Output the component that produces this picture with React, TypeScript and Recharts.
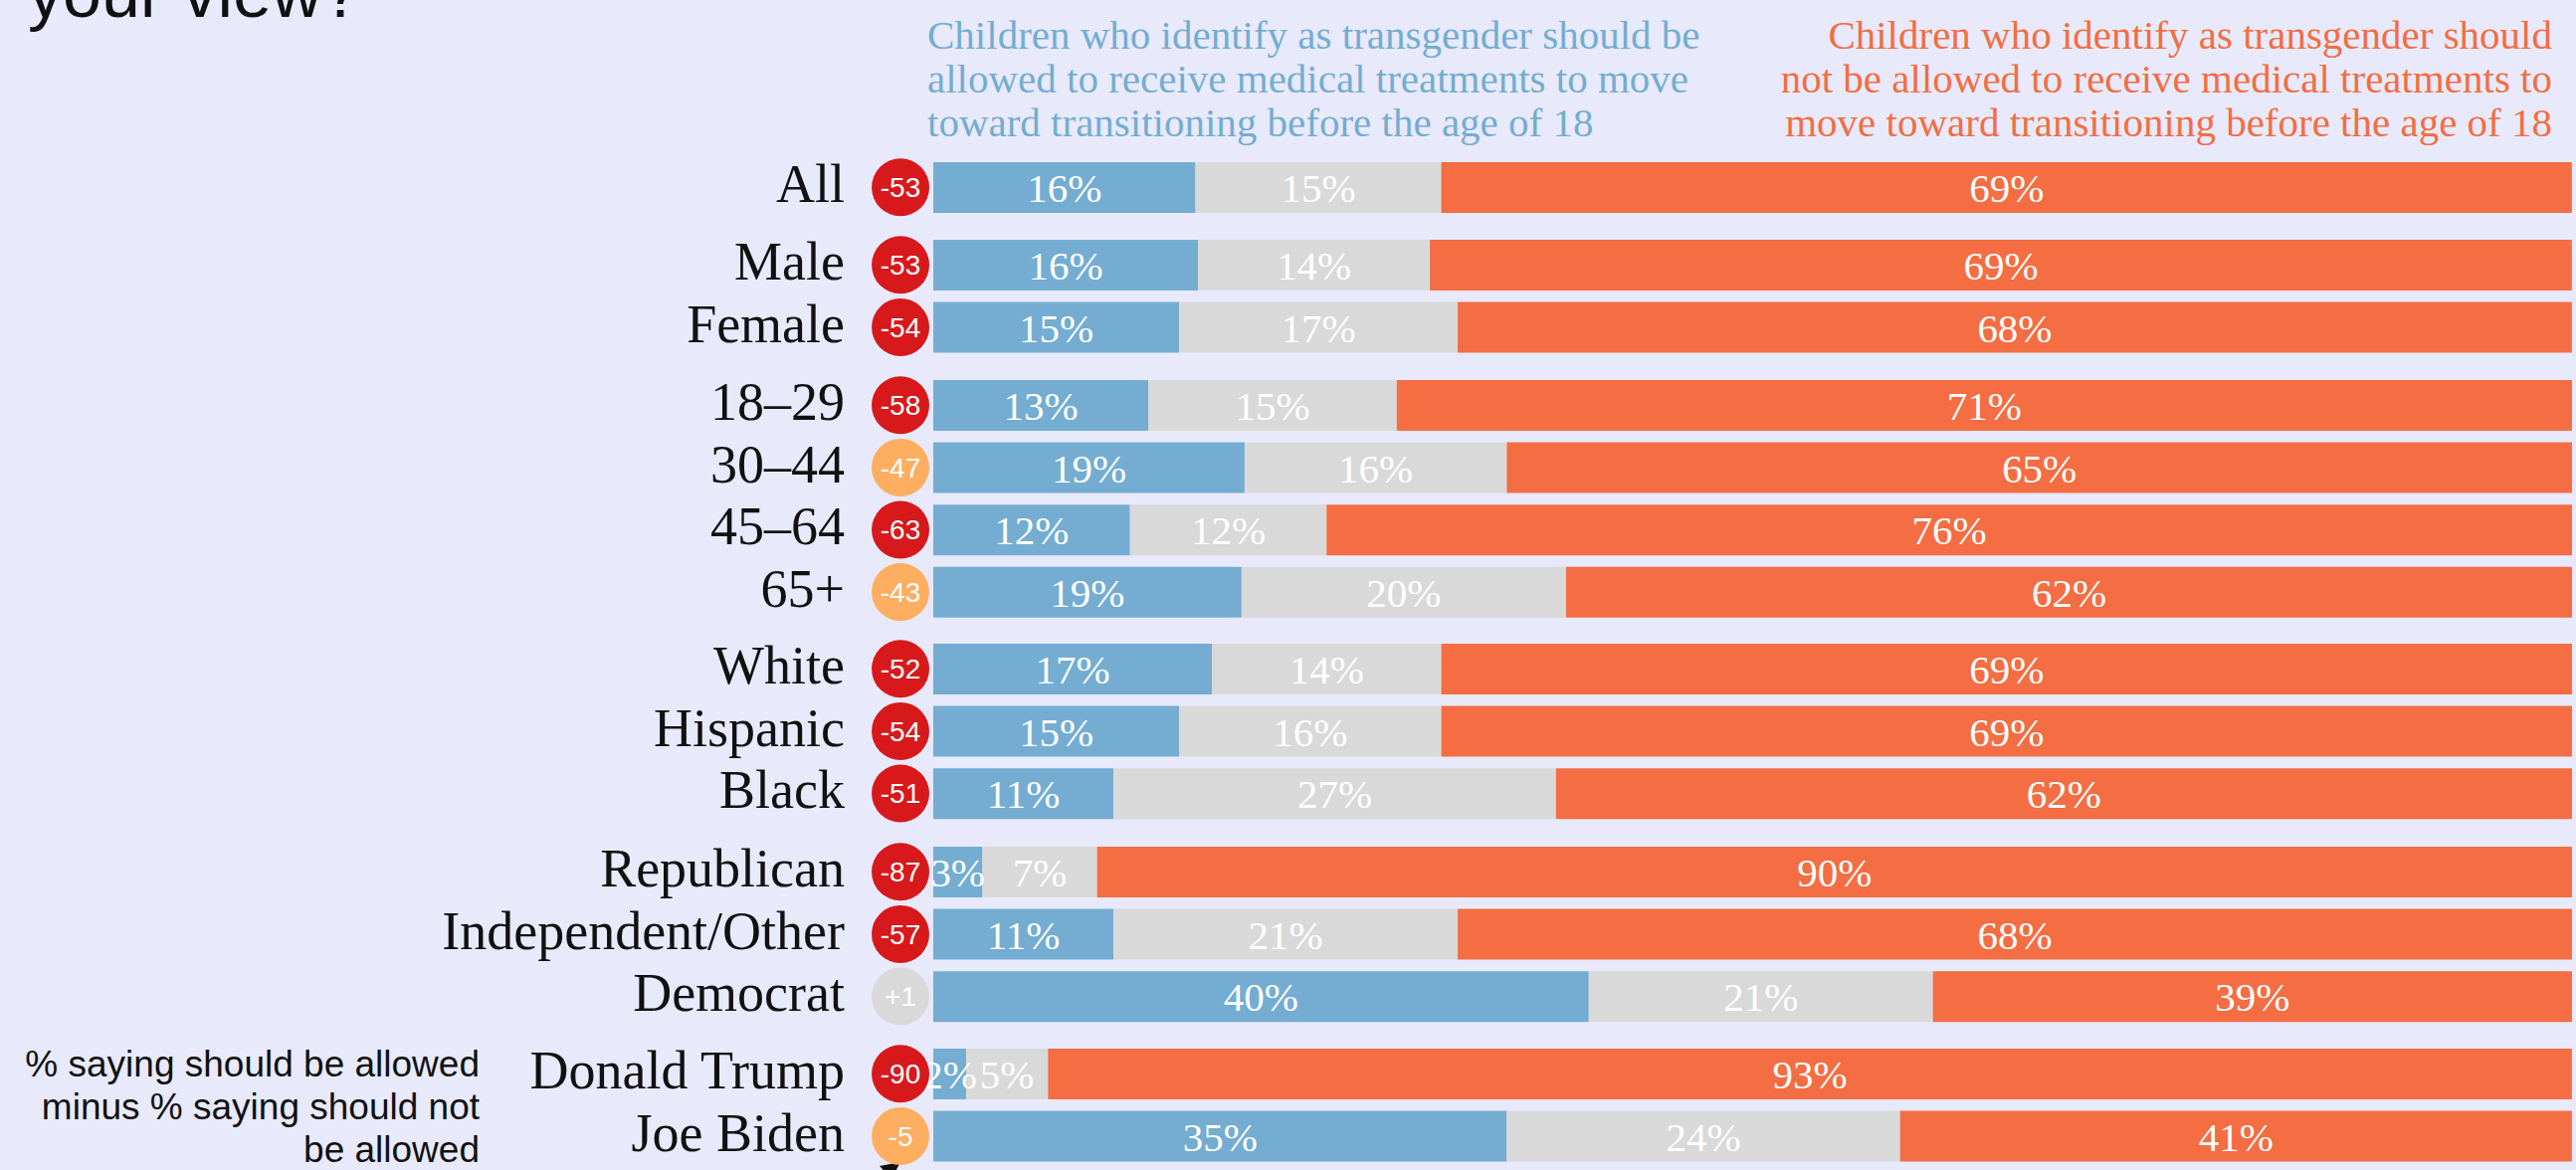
import { BarChart, Bar, XAxis, YAxis, LabelList } from "recharts";

// survey rows, top to bottom
const categories = [
  "All",
  "Male",
  "Female",
  "18–29",
  "30–44",
  "45–64",
  "65+",
  "White",
  "Hispanic",
  "Black",
  "Republican",
  "Independent/Other",
  "Democrat",
  "Donald Trump",
  "Joe Biden",
];
// how many rows sit in each block (gaps between blocks)
const groupSizes = [1, 2, 4, 3, 3, 2];

const allowed = [16, 16, 15, 13, 19, 12, 19, 17, 15, 11, 3, 11, 40, 2, 35];
const unsure = [15, 14, 17, 15, 16, 12, 20, 14, 16, 27, 7, 21, 21, 5, 24];
const notAllowed = [69, 69, 68, 71, 65, 76, 62, 69, 69, 62, 90, 68, 39, 93, 41];
const netScores = [-53, -53, -54, -58, -47, -63, -43, -52, -54, -51, -87, -57, 1, -90, -5];

const headerAllowed = [
  "Children who identify as transgender should be",
  "allowed to receive medical treatments to move",
  "toward transitioning before the age of 18",
];
const headerNotAllowed = [
  "Children who identify as transgender should",
  "not be allowed to receive medical treatments to",
  "move toward transitioning before the age of 18",
];
const noteLines = [
  "% saying should be allowed",
  "minus % saying should not",
  "be allowed",
];

const SERIF = "'Liberation Serif', 'Times New Roman', serif";
const SANS = "'Liberation Sans', Arial, sans-serif";

const BG = "#e8eafb";
const BLUE = "#74add1";
const GRAY = "#d9d9d9";
const ORANGE = "#f46d43";

const ROW_H = 62.6;
const GROUP_GAP = 15.4;
const LABEL_AREA = 938;

const rows = categories.map((name, i) => ({
  name,
  allowed: allowed[i],
  unsure: unsure[i],
  notAllowed: notAllowed[i],
  net: netScores[i],
}));

const groups: (typeof rows)[] = [];
{
  let start = 0;
  for (const n of groupSizes) {
    groups.push(rows.slice(start, start + n));
    start += n;
  }
}

function badgeColor(net: number) {
  if (net <= -50) return "#d7191c";
  if (net < 0) return "#fdae61";
  return "#d9d9d9";
}

function CategoryTick(props: any) {
  const { y, payload } = props;
  const row = rows.find((r) => r.name === payload.value);
  const net = row ? row.net : 0;
  return (
    <g>
      <text
        x={849}
        y={y + 15}
        textAnchor="end"
        fontFamily={SERIF}
        fontSize={54}
        fill="#111"
      >
        {payload.value}
      </text>
      <circle cx={905} cy={y} r={29} fill={badgeColor(net)} />
      <text
        x={905}
        y={y + 10}
        textAnchor="middle"
        fontFamily={SANS}
        fontSize={28}
        fill="#fff"
      >
        {net > 0 ? `+${net}` : `${net}`}
      </text>
    </g>
  );
}

const labelProps = {
  position: "center" as const,
  fill: "#fff",
  fontSize: 41,
  fontFamily: SERIF,
  formatter: (v: any) => `${v}%`,
};

function GroupChart({ data }: { data: typeof rows }) {
  return (
    <BarChart
      width={2585}
      height={data.length * ROW_H}
      data={data}
      layout="vertical"
      stackOffset="expand"
      margin={{ top: 0, right: 0, bottom: 0, left: 0 }}
    >
      <XAxis type="number" hide domain={[0, 1]} />
      <Bar dataKey="allowed" stackId="a" fill={BLUE} barSize={51} isAnimationActive={false}>
        <LabelList dataKey="allowed" {...labelProps} />
      </Bar>
      <Bar dataKey="unsure" stackId="a" fill={GRAY} barSize={51} isAnimationActive={false}>
        <LabelList dataKey="unsure" {...labelProps} />
      </Bar>
      <Bar dataKey="notAllowed" stackId="a" fill={ORANGE} barSize={51} isAnimationActive={false}>
        <LabelList dataKey="notAllowed" {...labelProps} />
      </Bar>
      <YAxis
        type="category"
        dataKey="name"
        width={LABEL_AREA}
        axisLine={false}
        tickLine={false}
        interval={0}
        tick={<CategoryTick />}
      />
    </BarChart>
  );
}

export default function App() {
  return (
    <div
      style={{
        position: "absolute",
        left: 0,
        top: 0,
        width: 2589,
        height: 1176,
        background: BG,
        overflow: "hidden",
      }}
    >
      <style>{`.recharts-surface { overflow: visible; }`}</style>
      <svg
        width={2589}
        height={1176}
        style={{ position: "absolute", left: 0, top: 0 }}
      >
        <text x={28} y={17} fontFamily={SANS} fontSize={70} fill="#111">
          your view?
        </text>
        {headerAllowed.map((t, i) => (
          <text
            key={t}
            x={932}
            y={49 + i * 44}
            fontFamily={SERIF}
            fontSize={41}
            fill={BLUE}
          >
            {t}
          </text>
        ))}
        {headerNotAllowed.map((t, i) => (
          <text
            key={t}
            x={2565}
            y={49 + i * 44}
            textAnchor="end"
            fontFamily={SERIF}
            fontSize={41}
            fill={ORANGE}
          >
            {t}
          </text>
        ))}
        {noteLines.map((t, i) => (
          <text
            key={t}
            x={482}
            y={1082 + i * 43}
            textAnchor="end"
            fontFamily={SANS}
            fontSize={37}
            fill="#111"
          >
            {t}
          </text>
        ))}
        <path d="M 860 1205 L 898 1174" stroke="#111" strokeWidth={3} />
        <polygon points="905,1168 884,1172 896,1185" fill="#111" />
      </svg>
      <div
        style={{
          position: "absolute",
          left: 0,
          top: 157,
          display: "flex",
          flexDirection: "column",
          gap: GROUP_GAP,
        }}
      >
        {groups.map((g, i) => (
          <GroupChart key={i} data={g} />
        ))}
      </div>
    </div>
  );
}
